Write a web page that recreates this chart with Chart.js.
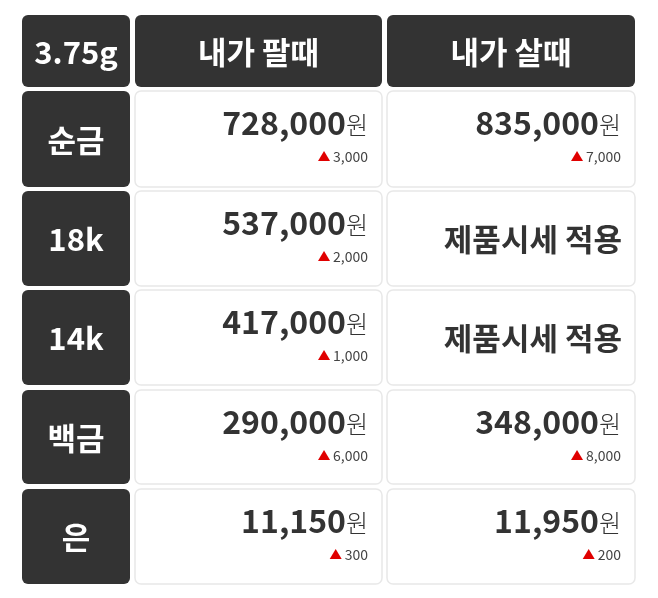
<!DOCTYPE html>
<html><head><meta charset="utf-8">
<script src="https://cdn.jsdelivr.net/npm/chart.js@4"></script>
<style>html,body{margin:0;padding:0;background:#fff}#w{width:658px;height:598px}</style>
</head><body><div id="w"><canvas id="c"></canvas></div>
<script>
const corner = "3.75g";
const columns = ["내가 팔때", "내가 살때"];
const metals = ["순금", "18k", "14k", "백금", "은"];
const sellPrices = [728000, 537000, 417000, 290000, 11150];
const sellChanges = [3000, 2000, 1000, 6000, 300];
const buyPrices = [835000, null, null, 348000, 11950];
const buyChanges = [7000, null, null, 8000, 200];
const buyFallback = "제품시세 적용";

const colEdges = [[22,130],[135,382],[387,635]];
const rowEdges = [[15,87],[91,187],[191,286],[290,385],[390,484],[489,584]];
const FONT = '"Noto Sans CJK KR","Noto Sans",sans-serif';
const fmt = v => v.toLocaleString('en-US');

function rr(ctx,x,y,w,h,r){ctx.beginPath();ctx.moveTo(x+r,y);ctx.arcTo(x+w,y,x+w,y+h,r);ctx.arcTo(x+w,y+h,x,y+h,r);ctx.arcTo(x,y+h,x,y,r);ctx.arcTo(x,y,x+w,y,r);ctx.closePath();}

const tablePlugin = {
  id:'table',
  afterDraw(chart){
    const ctx=chart.ctx, xs=chart.scales.x, ys=chart.scales.y;
    const box=(c,r)=>{const x0=xs.getPixelForValue(colEdges[c][0]),x1=xs.getPixelForValue(colEdges[c][1]);
      const y0=ys.getPixelForValue(rowEdges[r][0]),y1=ys.getPixelForValue(rowEdges[r][1]);return {x0,x1,y0,y1,cx:(x0+x1)/2,cy:(y0+y1)/2};};
    ctx.save();
    for(let r=0;r<rowEdges.length;r++)for(let c=0;c<colEdges.length;c++){
      const b=box(c,r); const dark=(r===0||c===0);
      rr(ctx,b.x0,b.y0,b.x1-b.x0,b.y1-b.y0,6);
      if(dark){ctx.fillStyle='#333333';ctx.fill();}
      else{ctx.fillStyle='#ffffff';ctx.fill();ctx.strokeStyle='#e8e8e8';ctx.lineWidth=1.5;ctx.stroke();}
    }
    const center=(t,b)=>{ctx.fillStyle='#fff';ctx.font='bold 31px '+FONT;ctx.textAlign='center';ctx.textBaseline='middle';ctx.fillText(t,b.cx,b.cy+1);};
    center(corner,box(0,0));
    columns.forEach((t,i)=>center(t,box(i+1,0)));
    metals.forEach((t,i)=>center(t,box(0,i+1)));
    const priceCell=(b,price,chg)=>{
      const right=b.x1-14;
      ctx.textBaseline='alphabetic';ctx.textAlign='right';
      ctx.font='300 24px '+FONT;ctx.fillStyle='#333';
      const ww=ctx.measureText('원').width;
      ctx.fillText('원',right,b.y0+43);
      ctx.font='bold 32px '+FONT;ctx.fillStyle='#333';
      ctx.fillText(fmt(price),right-ww,b.y0+44);
      ctx.font='14px '+FONT;ctx.fillStyle='#444';
      const s=fmt(chg);ctx.fillText(s,right,b.y0+71);
      const tw=ctx.measureText(s).width; const tx=right-tw-9;
      ctx.fillStyle='#e00000';ctx.beginPath();ctx.moveTo(tx-6,b.y0+70);ctx.lineTo(tx+6,b.y0+70);ctx.lineTo(tx,b.y0+60);ctx.closePath();ctx.fill();
    };
    for(let i=0;i<metals.length;i++){
      priceCell(box(1,i+1),sellPrices[i],sellChanges[i]);
      const b=box(2,i+1);
      if(buyPrices[i]!=null) priceCell(b,buyPrices[i],buyChanges[i]);
      else{ctx.font='bold 31px '+FONT;ctx.fillStyle='#333';ctx.textAlign='right';ctx.textBaseline='middle';ctx.fillText(buyFallback,b.x1-13,b.cy+1);}
    }
    ctx.restore();
  }
};

new Chart(document.getElementById('c'),{
  type:'scatter',
  data:{datasets:[{data:[]}]},
  options:{responsive:true,maintainAspectRatio:false,animation:false,
    layout:{padding:0},
    plugins:{legend:{display:false},tooltip:{enabled:false}},
    scales:{x:{type:'linear',min:0,max:658,display:false},y:{type:'linear',min:0,max:598,reverse:true,display:false}}},
  plugins:[tablePlugin]
});
</script></body></html>
